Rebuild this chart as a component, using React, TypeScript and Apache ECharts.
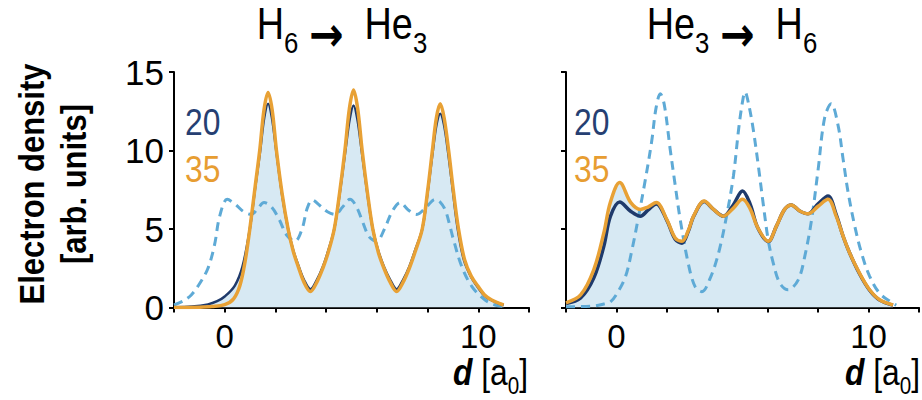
import React, { useEffect, useRef } from 'react';
import * as echarts from 'echarts';

const FONT = '"Liberation Sans", Arial, sans-serif';
const ARROW_FONT = '"DejaVu Sans", "Liberation Sans", sans-serif';
const SQUEEZE = 0.86; // condensed look for free texts

// x tick values that carry a label, y tick labels
const xTickLabels = [0, 10];
const yTickValues = [0, 5, 10, 15];

// legend labels (iterations)
const legendLabels = ['20', '35'];

// Left panel: H6 -> He3
const leftN20 = [
  [-2.0, 0.02], [-1.3, 0.06], [-0.66, 0.2], [-0.3, 0.4], [0.0, 0.7], [0.4, 1.4], [0.7, 2.6], [0.99, 5.0],
  [1.2, 7.6], [1.4, 10.0], [1.56, 12.1], [1.71, 12.98], [1.86, 12.1], [2.03, 10.0], [2.26, 7.2], [2.5, 5.0],
  [2.7, 3.65], [2.9, 2.7], [3.13, 1.75], [3.38, 1.17], [3.63, 1.75], [3.87, 2.6], [4.08, 3.6], [4.32, 5.0],
  [4.53, 7.2], [4.76, 10.0], [4.93, 12.0], [5.08, 12.87], [5.23, 12.0], [5.4, 10.0], [5.63, 7.2], [5.84, 5.0],
  [6.06, 3.6], [6.28, 2.6], [6.53, 1.75], [6.78, 1.17], [7.03, 1.75], [7.28, 2.6], [7.5, 3.6], [7.79, 5.0],
  [8.0, 7.3], [8.21, 10.0], [8.36, 11.7], [8.5, 12.34], [8.64, 11.7], [8.8, 10.0], [9.0, 7.4], [9.19, 5.0],
  [9.43, 3.04], [9.7, 2.0], [10.0, 1.25], [10.25, 0.75], [10.53, 0.45], [11.0, 0.15],
];
const leftN35 = [
  [-2.0, 0.0], [-1.0, 0.02], [-0.5, 0.06], [0.0, 0.18], [0.35, 0.55], [0.6, 1.4], [0.8, 2.9], [0.99, 5.0],
  [1.2, 7.7], [1.38, 10.0], [1.55, 12.6], [1.71, 13.7], [1.87, 12.6], [2.04, 10.0], [2.26, 7.3], [2.5, 5.0],
  [2.7, 3.6], [2.9, 2.6], [3.13, 1.6], [3.38, 1.02], [3.63, 1.6], [3.87, 2.5], [4.08, 3.5], [4.32, 5.0],
  [4.53, 7.3], [4.74, 10.0], [4.92, 12.7], [5.08, 13.85], [5.24, 12.7], [5.42, 10.0], [5.63, 7.3], [5.84, 5.0],
  [6.06, 3.5], [6.28, 2.5], [6.53, 1.6], [6.78, 1.02], [7.03, 1.6], [7.28, 2.5], [7.5, 3.5], [7.79, 5.0],
  [8.0, 7.4], [8.19, 10.0], [8.35, 12.1], [8.5, 12.98], [8.65, 12.1], [8.83, 10.0], [9.02, 7.4], [9.22, 5.0],
  [9.46, 3.04], [9.72, 2.0], [10.0, 1.33], [10.25, 0.8], [10.53, 0.48], [11.0, 0.16],
];
const leftTarget = [
  [-2.0, 0.16], [-1.6, 0.45], [-1.32, 0.8], [-1.0, 1.5], [-0.66, 2.5], [-0.4, 4.0], [-0.2, 5.8], [0.1, 6.89],
  [0.4, 6.6], [0.75, 6.1], [1.05, 5.93], [1.3, 6.3], [1.55, 6.68], [1.85, 6.4], [2.15, 5.6], [2.45, 4.6],
  [2.77, 4.22], [3.05, 5.0], [3.25, 6.3], [3.45, 6.85], [3.75, 6.5], [4.05, 6.1], [4.35, 5.93], [4.65, 6.4],
  [4.94, 6.89], [5.2, 6.4], [5.45, 5.4], [5.7, 4.5], [5.99, 4.22], [6.3, 5.0], [6.6, 6.1], [6.92, 6.68],
  [7.25, 6.2], [7.57, 5.93], [7.95, 6.4], [8.3, 6.89], [8.5, 6.7], [8.7, 6.2], [8.88, 5.2], [9.02, 4.33],
  [9.35, 2.6], [9.75, 1.33], [10.27, 0.48], [10.67, 0.16], [11.0, 0.08],
];

// Right panel: He3 -> H6
const rightN20 = [
  [-2.0, 0.25], [-1.42, 0.6], [-0.9, 1.87], [-0.5, 3.9], [-0.24, 5.8], [0.13, 6.72], [0.55, 6.15], [0.95, 5.82],
  [1.25, 6.2], [1.58, 6.6], [2.0, 5.55], [2.33, 4.35], [2.6, 4.1], [2.85, 4.85], [3.06, 5.8], [3.48, 6.75],
  [3.85, 6.25], [4.24, 5.82], [4.62, 6.5], [5.0, 7.42], [5.3, 6.6], [5.6, 5.1], [6.02, 4.2], [6.35, 5.2],
  [6.67, 6.25], [6.94, 6.53], [7.27, 6.15], [7.6, 5.97], [8.0, 6.6], [8.39, 7.1], [8.72, 5.9], [8.99, 4.54],
  [9.25, 3.47], [9.64, 2.15], [10.04, 1.1], [10.44, 0.47], [10.97, 0.15],
];
const rightN35 = [
  [-2.0, 0.3], [-1.42, 0.8], [-0.9, 2.4], [-0.5, 4.75], [-0.24, 6.7], [0.13, 7.96], [0.57, 6.68], [0.95, 6.25],
  [1.25, 6.4], [1.58, 6.68], [2.0, 5.6], [2.33, 4.43], [2.6, 4.22], [2.85, 4.9], [3.06, 5.82], [3.48, 6.78],
  [3.85, 6.25], [4.24, 5.82], [4.62, 6.3], [5.0, 6.89], [5.3, 6.3], [5.6, 5.1], [6.02, 4.22], [6.35, 5.2],
  [6.67, 6.25], [6.94, 6.53], [7.27, 6.15], [7.6, 5.97], [8.0, 6.45], [8.39, 6.89], [8.72, 5.8], [8.99, 4.54],
  [9.25, 3.47], [9.64, 2.19], [10.04, 1.13], [10.44, 0.49], [10.97, 0.16],
];
const rightTarget = [
  [-2.0, 0.05], [-1.0, 0.08], [-0.5, 0.22], [-0.24, 0.35], [0.03, 0.91], [0.36, 1.97], [0.62, 3.7], [0.88, 5.82],
  [1.15, 8.17], [1.4, 10.6], [1.57, 12.7], [1.74, 13.62], [1.9, 12.9], [2.13, 10.1], [2.33, 7.8], [2.53, 5.6],
  [2.86, 2.72], [3.12, 1.33], [3.39, 1.01], [3.72, 1.87], [4.05, 3.47], [4.38, 5.93], [4.64, 8.38], [4.85, 11.4],
  [5.0, 13.1], [5.1, 13.73], [5.25, 12.9], [5.43, 11.3], [5.63, 9.0], [5.83, 6.5], [6.02, 4.3], [6.22, 2.83],
  [6.48, 1.55], [6.81, 1.13], [7.21, 1.76], [7.47, 3.26], [7.74, 5.6], [8.0, 8.8], [8.26, 12.1], [8.52, 12.98],
  [8.79, 11.6], [8.99, 9.45], [9.19, 7.32], [9.45, 5.2], [9.72, 3.47], [10.04, 2.0], [10.44, 0.9], [10.97, 0.27],
  [11.1, 0.15],
];

const NAVY = '#1f3a6b';
const ORANGE = '#e8a135';
const DASH = '#5eaad6';
const FILL = '#d7e9f3';
const SMOOTH = 0.35;

function buildOption() {
  const axisLineStyle = { color: '#000', width: 2 };
  const xAxes = [0, 1].map((i) => ({
    type: 'value',
    gridIndex: i,
    min: -2,
    max: 12,
    interval: 2,
    axisLine: { show: true, onZero: false, lineStyle: axisLineStyle },
    axisTick: { show: true, length: 5, lineStyle: axisLineStyle },
    axisLabel: {
      show: true,
      margin: 12,
      fontSize: 33,
      color: '#000',
      fontFamily: FONT,
      showMinLabel: true,
      showMaxLabel: true,
      formatter: (v: number) => (xTickLabels.indexOf(v) >= 0 ? String(v) : ''),
    },
    splitLine: { show: false },
  }));
  const yAxes = [0, 1].map((i) => ({
    type: 'value',
    gridIndex: i,
    min: 0,
    max: 15,
    interval: 5,
    axisLine: { show: true, onZero: false, lineStyle: axisLineStyle },
    axisTick: { show: true, length: 5, lineStyle: axisLineStyle },
    axisLabel: {
      show: i === 0,
      margin: 10,
      fontSize: 35,
      color: '#000',
      fontFamily: FONT,
      formatter: (v: number) => (yTickValues.indexOf(v) >= 0 ? String(v) : ''),
    },
    splitLine: { show: false },
  }));

  const base = { type: 'line', symbol: 'none', showSymbol: false, smooth: SMOOTH, silent: true };
  const panels = [
    { fill: leftN20, target: leftTarget, n20: leftN20, n35: leftN35, w20: 2.5 },
    { fill: rightN35, target: rightTarget, n20: rightN20, n35: rightN35, w20: 3.5 },
  ];
  const series: any[] = [];
  panels.forEach((p, i) => {
    series.push({ ...base, xAxisIndex: i, yAxisIndex: i, data: p.fill, lineStyle: { width: 0 }, areaStyle: { color: FILL, opacity: 1 }, z: 1 });
    series.push({ ...base, xAxisIndex: i, yAxisIndex: i, data: p.target, lineStyle: { color: DASH, width: 3, type: [9, 6] }, z: 2 });
    series.push({ ...base, xAxisIndex: i, yAxisIndex: i, data: p.n20, lineStyle: { color: NAVY, width: p.w20 }, z: 3 });
    series.push({ ...base, xAxisIndex: i, yAxisIndex: i, data: p.n35, lineStyle: { color: ORANGE, width: 3.5 }, z: 4 });
  });

  const titleRich = {
    m: { fontSize: 44, lineHeight: 56, verticalAlign: 'top', fontFamily: FONT, fill: '#000' },
    a: { fontSize: 48, fontWeight: 'bold', lineHeight: 48, verticalAlign: 'bottom', fontFamily: ARROW_FONT, fill: '#000' },
    s: { fontSize: 30, lineHeight: 30, verticalAlign: 'bottom', fontFamily: FONT, fill: '#000' },
  };
  const xNameRich = {
    d: { fontSize: 37, fontWeight: 'bold', fontStyle: 'italic', lineHeight: 44, verticalAlign: 'top', fontFamily: FONT, fill: '#000' },
    n: { fontSize: 37, lineHeight: 44, verticalAlign: 'top', fontFamily: FONT, fill: '#000' },
    s: { fontSize: 24, lineHeight: 24, verticalAlign: 'bottom', fontFamily: FONT, fill: '#000' },
  };
  const legendX = [185, 574];
  const graphic: any[] = [
    { type: 'text', x: 342, y: 2, scaleX: SQUEEZE, silent: true, style: { text: '{m|H}{s|6}{m| }{a|\u2192}{m|  He}{s|3}', align: 'center', verticalAlign: 'top', rich: titleRich, fontFamily: FONT } },
    { type: 'text', x: 732, y: 2, scaleX: SQUEEZE, silent: true, style: { text: '{m|He}{s|3}{m| }{a|\u2192}{m|  H}{s|6}', align: 'center', verticalAlign: 'top', rich: titleRich, fontFamily: FONT } },
    { type: 'text', x: 53, y: 184, rotation: Math.PI / 2, scaleX: SQUEEZE, silent: true, style: { text: 'Electron density\n[arb. units]', align: 'center', verticalAlign: 'middle', fontSize: 36, fontWeight: 'bold', lineHeight: 42, fontFamily: FONT, fill: '#000' } },
    { type: 'text', x: 528, y: 354, scaleX: SQUEEZE, silent: true, style: { text: '{d|d}{n| [a}{s|0}{n|]}', align: 'right', verticalAlign: 'top', rich: xNameRich, fontFamily: FONT } },
    { type: 'text', x: 920, y: 354, scaleX: SQUEEZE, silent: true, style: { text: '{d|d}{n| [a}{s|0}{n|]}', align: 'right', verticalAlign: 'top', rich: xNameRich, fontFamily: FONT } },
  ];
  legendX.forEach((lx) => {
    graphic.push({ type: 'text', x: lx, y: 122, scaleX: SQUEEZE, silent: true, style: { text: legendLabels[0], fontSize: 37, fill: '#263f72', fontFamily: FONT, align: 'left', verticalAlign: 'middle' } });
    graphic.push({ type: 'text', x: lx, y: 169, scaleX: SQUEEZE, silent: true, style: { text: legendLabels[1], fontSize: 37, fill: '#e79d31', fontFamily: FONT, align: 'left', verticalAlign: 'middle' } });
  });

  return {
    animation: false,
    backgroundColor: '#fff',
    textStyle: { fontFamily: FONT },
    grid: [
      { left: 174, top: 72, width: 355, height: 235.5 },
      { left: 566, top: 72, width: 354, height: 235.5 },
    ],
    xAxis: xAxes,
    yAxis: yAxes,
    series,
    graphic,
  };
}

export default function App() {
  const ref = useRef<HTMLDivElement>(null);
  useEffect(() => {
    if (!ref.current) return;
    const chart = echarts.init(ref.current, undefined, { renderer: 'svg' });
    chart.setOption(buildOption() as any);
    return () => chart.dispose();
  }, []);
  return <div ref={ref} style={{ position: 'absolute', left: 0, top: 0, width: 922, height: 400, background: '#fff' }} />;
}
